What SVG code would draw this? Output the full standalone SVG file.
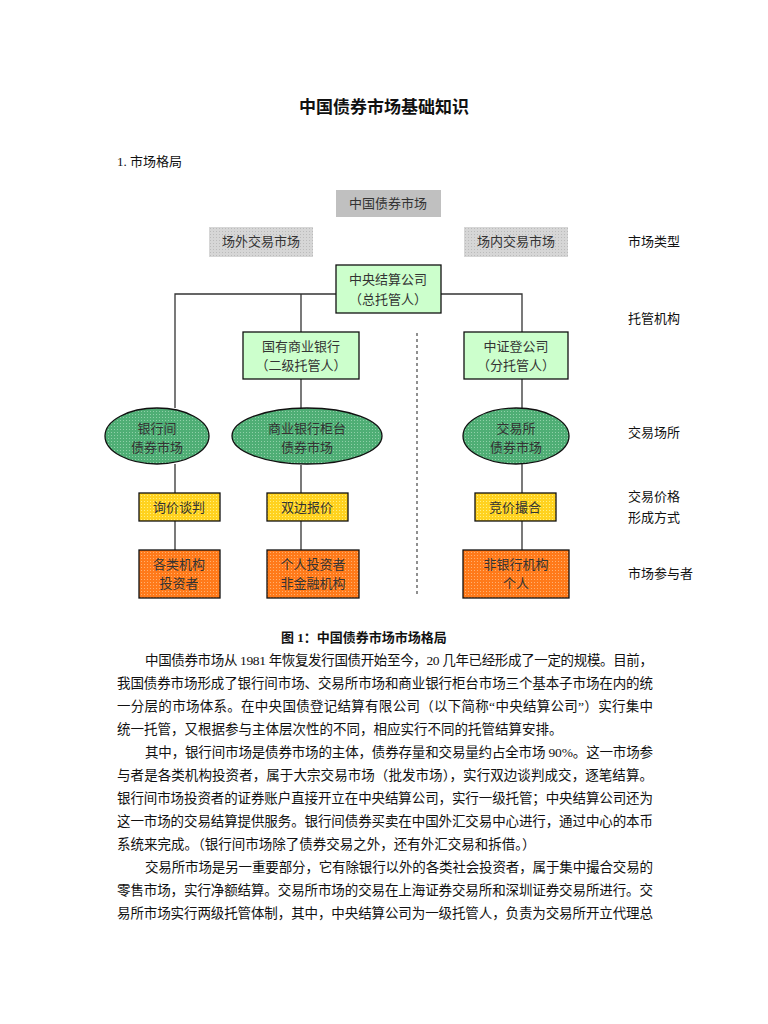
<svg xmlns="http://www.w3.org/2000/svg" width="768" height="1024" viewBox="0 0 768 1024">
<style>
text{font-family:"Liberation Serif","Noto Sans CJK SC",serif;fill:#111;}
.n{font-size:13px;text-anchor:middle;fill:#333;}
.b{font-size:13.5px;}
.lbl{font-size:13px;}
.ln{stroke:#333;stroke-width:1.3;fill:none;}
.bx{stroke:#111;stroke-width:1.3;}
</style>
<defs>
<pattern id="gp" width="3" height="3" patternUnits="userSpaceOnUse"><rect width="3" height="3" fill="#d6d6d6"/><rect width="1" height="1" fill="#bbb"/></pattern>
<pattern id="grp" width="3" height="3" patternUnits="userSpaceOnUse"><rect width="3" height="3" fill="#4fae75"/><rect width="1" height="1" fill="#8fd0a8"/></pattern>
<pattern id="yp" width="3" height="3" patternUnits="userSpaceOnUse"><rect width="3" height="3" fill="#ffd21f"/><rect width="1" height="1" fill="#fff080"/></pattern>
<pattern id="op" width="3" height="3" patternUnits="userSpaceOnUse"><rect width="3" height="3" fill="#ff7a1a"/><rect width="1" height="1" fill="#ffb070"/></pattern>
</defs>
<rect width="768" height="1024" fill="#fff"/>
<text x="384" y="113" text-anchor="middle" style="font-size:17px;font-weight:bold">中国债券市场基础知识</text>
<text x="117" y="166" class="lbl">1.   市场格局</text>

<g id="connectors">
<path class="ln" d="M336 294H175V408M441 294H522V332M301 294V332M301 379V408M175 464V493M175 521V550M301 465V493M301 521V550M522 379V408M522 464V493M522 521V550"/>
<path d="M417 333V597" stroke="#555" stroke-width="1.3" stroke-dasharray="3,3"/>
</g>

<g id="n-root"><rect x="336" y="190" width="105" height="27" fill="#c0c0c0"/><text class="n" x="388" y="208">中国债券市场</text></g>
<g id="n-otc"><rect x="209" y="227" width="104" height="30" fill="url(#gp)"/><text class="n" x="261" y="246">场外交易市场</text></g>
<g id="n-ex"><rect x="464" y="227" width="104" height="30" fill="url(#gp)"/><text class="n" x="516" y="246">场内交易市场</text></g>
<g id="n-ccdc"><rect class="bx" x="336" y="265" width="105" height="48" fill="#ccffcc"/><text class="n" x="388" y="284">中央结算公司</text><text class="n" x="388" y="304">（总托管人）</text></g>
<g id="n-bank"><rect class="bx" x="243" y="332" width="116" height="47" fill="#ccffcc"/><text class="n" x="301" y="351">国有商业银行</text><text class="n" x="301" y="370">（二级托管人）</text></g>
<g id="n-csdc"><rect class="bx" x="464" y="332" width="104" height="47" fill="#ccffcc"/><text class="n" x="516" y="351">中证登公司</text><text class="n" x="516" y="370">（分托管人）</text></g>
<g id="n-ib"><ellipse class="bx" cx="157" cy="436" rx="52" ry="28" fill="url(#grp)"/><text class="n" x="157" y="433">银行间</text><text class="n" x="157" y="452">债券市场</text></g>
<g id="n-ctr"><ellipse class="bx" cx="307" cy="436" rx="75" ry="28" fill="url(#grp)"/><text class="n" x="307" y="433">商业银行柜台</text><text class="n" x="307" y="452">债券市场</text></g>
<g id="n-exm"><ellipse class="bx" cx="516" cy="436" rx="53" ry="28" fill="url(#grp)"/><text class="n" x="516" y="433">交易所</text><text class="n" x="516" y="452">债券市场</text></g>
<g id="n-p1"><rect class="bx" x="139" y="493" width="81" height="28" fill="url(#yp)"/><text class="n" x="179" y="512">询价谈判</text></g>
<g id="n-p2"><rect class="bx" x="267" y="493" width="81" height="28" fill="url(#yp)"/><text class="n" x="307" y="512">双边报价</text></g>
<g id="n-p3"><rect class="bx" x="475" y="493" width="81" height="28" fill="url(#yp)"/><text class="n" x="515" y="512">竞价撮合</text></g>
<g id="n-a1"><rect class="bx" x="139" y="550" width="81" height="48" fill="url(#op)"/><text class="n" x="179" y="569">各类机构</text><text class="n" x="179" y="588">投资者</text></g>
<g id="n-a2"><rect class="bx" x="267" y="550" width="92" height="48" fill="url(#op)"/><text class="n" x="313" y="569">个人投资者</text><text class="n" x="313" y="588">非金融机构</text></g>
<g id="n-a3"><rect class="bx" x="463" y="550" width="106" height="48" fill="url(#op)"/><text class="n" x="516" y="569">非银行机构</text><text class="n" x="516" y="588">个人</text></g>

<g class="lbl">
<text x="628" y="246" class="lbl">市场类型</text>
<text x="628" y="323" class="lbl">托管机构</text>
<text x="628" y="437" class="lbl">交易场所</text>
<text x="628" y="501" class="lbl">交易价格</text>
<text x="628" y="522" class="lbl">形成方式</text>
<text x="628" y="578" class="lbl">市场参与者</text>
</g>

<text x="364" y="642" text-anchor="middle" style="font-size:13px;font-weight:bold">图 1：中国债券市场市场格局</text>
<g class="b">
<text class="b" x="145" y="665" textLength="508" lengthAdjust="spacing">中国债券市场从 1981 年恢复发行国债开始至今，20 几年已经形成了一定的规模。目前，</text>
<text class="b" x="117" y="688" textLength="536" lengthAdjust="spacing">我国债券市场形成了银行间市场、交易所市场和商业银行柜台市场三个基本子市场在内的统</text>
<text class="b" x="117" y="711" textLength="536" lengthAdjust="spacing">一分层的市场体系。在中央国债登记结算有限公司（以下简称“中央结算公司”）实行集中</text>
<text class="b" x="117" y="734">统一托管，又根据参与主体层次性的不同，相应实行不同的托管结算安排。</text>
<text class="b" x="145" y="757" textLength="508" lengthAdjust="spacing">其中，银行间市场是债券市场的主体，债券存量和交易量约占全市场 90%。这一市场参</text>
<text class="b" x="117" y="780" textLength="536" lengthAdjust="spacing">与者是各类机构投资者，属于大宗交易市场（批发市场），实行双边谈判成交，逐笔结算。</text>
<text class="b" x="117" y="803" textLength="536" lengthAdjust="spacing">银行间市场投资者的证券账户直接开立在中央结算公司，实行一级托管；中央结算公司还为</text>
<text class="b" x="117" y="826" textLength="536" lengthAdjust="spacing">这一市场的交易结算提供服务。银行间债券买卖在中国外汇交易中心进行，通过中心的本币</text>
<text class="b" x="117" y="849">系统来完成。（银行间市场除了债券交易之外，还有外汇交易和拆借。）</text>
<text class="b" x="145" y="872" textLength="508" lengthAdjust="spacing">交易所市场是另一重要部分，它有除银行以外的各类社会投资者，属于集中撮合交易的</text>
<text class="b" x="117" y="895" textLength="536" lengthAdjust="spacing">零售市场，实行净额结算。交易所市场的交易在上海证券交易所和深圳证券交易所进行。交</text>
<text class="b" x="117" y="918" textLength="536" lengthAdjust="spacing">易所市场实行两级托管体制，其中，中央结算公司为一级托管人，负责为交易所开立代理总</text>
</g>
</svg>
